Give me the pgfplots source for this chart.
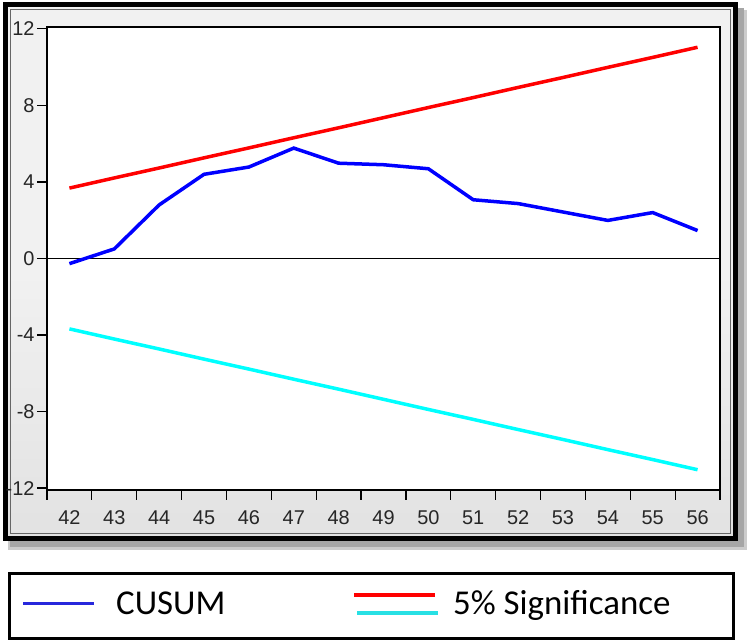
\documentclass[border=0pt]{standalone}
\usepackage{pgfplots}
\pgfplotsset{compat=1.18}
\usepackage{fontspec}
\setmainfont{Liberation Sans}
\newfontfamily\calib{Carlito}
\definecolor{panelTop}{HTML}{F1F1F1}
\definecolor{panelBot}{HTML}{E2E2E2}
\definecolor{cyanL}{RGB}{0,255,255}
\definecolor{cyanLeg}{RGB}{40,224,228}
\definecolor{blueL}{RGB}{0,0,255}
\definecolor{redL}{RGB}{255,0,0}
\definecolor{lblue}{RGB}{40,40,220}
\begin{document}
\begin{tikzpicture}[x=1bp,y=1bp]
\path (0,0) rectangle (749,642);
% shadow
\fill[black!20] (8,92) rectangle (747,632);
\fill[black!35] (10,95) rectangle (744,634);
% panel
\shade[top color=panelTop, bottom color=panelBot, middle color=panelTop] (5,103) rectangle (736,638);
\draw[black!60, line width=0.8bp] (10,108.5) rectangle (730.5,633);
\draw[black, line width=5bp] (5.5,103.5) rectangle (735.5,637.5);
% axis
\begin{axis}[
  at={(47bp,152bp)}, anchor=south west,
  width=673bp, height=463bp, scale only axis,
  xmin=41.5, xmax=56.5, ymin=-12.1, ymax=12.1,
  axis background/.style={fill=white},
  axis line style={black, line width=1.2bp},
  xtick={42,...,56},
  minor xtick={41.5,42.5,...,56.5},
  ytick={-12,-8,-4,0,4,8,12},
  tick align=outside,
  xtick pos=bottom, ytick pos=left,
  major tick length=10bp,
  x tick style={draw=none},
  minor x tick style={draw=black, line width=1.2bp},
  minor tick length=10bp,
  y tick style={black, line width=1.2bp},
  /pgf/number format/assume math mode=true,
  xticklabel style={anchor=base, yshift=-25bp, font=\fontsize{20}{24}\selectfont, text=black!85},
  yticklabel style={xshift=1bp, font=\fontsize{20}{24}\selectfont, text=black!85},
  clip=false,
]
\addplot[black, line width=1.3bp] coordinates {(41.5,0) (56.5,0)};
\addplot[redL, line width=3.5bp] coordinates {
(42,3.68) (43,4.21) (44,4.73) (45,5.26) (46,5.78) (47,6.31) (48,6.83) (49,7.36)
(50,7.89) (51,8.41) (52,8.94) (53,9.46) (54,9.99) (55,10.51) (56,11.04)};
\addplot[cyanL, line width=3.5bp] coordinates {
(42,-3.68) (43,-4.21) (44,-4.73) (45,-5.26) (46,-5.78) (47,-6.31) (48,-6.83) (49,-7.36)
(50,-7.89) (51,-8.41) (52,-8.94) (53,-9.46) (54,-9.99) (55,-10.51) (56,-11.04)};
\addplot[blueL, line width=3.5bp] coordinates {
(42,-0.27) (43,0.5) (44,2.8) (45,4.4) (46,4.78) (47,5.77) (48,4.98) (49,4.9)
(50,4.69) (51,3.07) (52,2.87) (53,2.43) (54,1.99) (55,2.4) (56,1.46)};
\end{axis}
% legend
\draw[black, line width=3bp] (9.5,3.5) rectangle (733.5,68.5);
\draw[lblue, line width=3bp] (23,38) -- (94,38);
\node[anchor=base west, inner sep=0pt, font=\calib\fontsize{35}{40}\selectfont] at (116,27) {CUSUM};
\draw[redL, line width=4.5bp] (354,47) -- (435,47);
\draw[cyanLeg, line width=4.5bp] (357,29) -- (438,29);
\node[anchor=base west, inner sep=0pt, font=\calib\fontsize{35}{40}\selectfont] at (453,27) {5\% Significance};
\end{tikzpicture}
\end{document}
